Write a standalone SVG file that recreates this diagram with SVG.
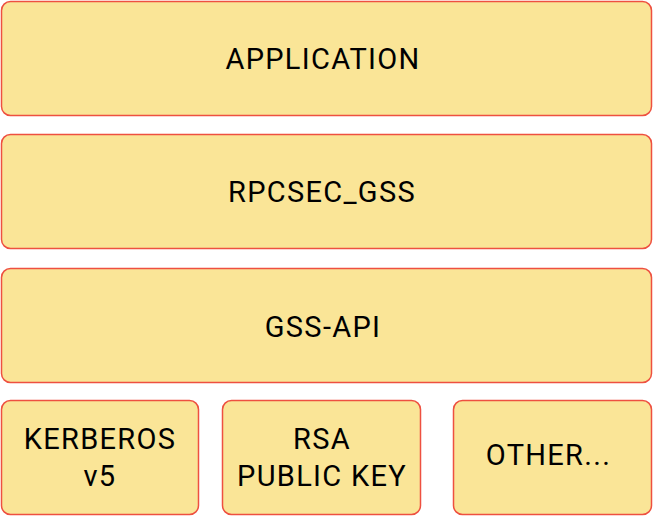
<svg xmlns="http://www.w3.org/2000/svg" width="653" height="516" viewBox="0 0 653 516">
<style>
.box{fill:#FAE597;stroke:#EE5040;stroke-width:1.5}
.t{font-family:Roboto,"Liberation Sans",sans-serif;font-size:29px;letter-spacing:1.3px;fill:#000;text-anchor:middle}
</style>
<rect width="653" height="516" fill="#fff"/>
<g id="application"><rect class="box" x="1.5" y="1.5" width="650" height="114" rx="9"/><text class="t" x="323" y="69">APPLICATION</text></g>
<g id="rpcsec"><rect class="box" x="1.5" y="134.5" width="650" height="114" rx="9"/><text class="t" x="322" y="202">RPCSEC_GSS</text></g>
<g id="gssapi"><rect class="box" x="1.5" y="268.5" width="650" height="114" rx="9"/><text class="t" x="323" y="337">GSS-API</text></g>
<g id="kerberos"><rect class="box" x="1.5" y="400.5" width="197" height="114" rx="9"/><text class="t" x="100" y="449">KERBEROS</text><text class="t" x="100" y="486">v5</text></g>
<g id="rsa"><rect class="box" x="222.5" y="400.5" width="198" height="114" rx="9"/><text class="t" x="322" y="449">RSA</text><text class="t" x="322" y="486">PUBLIC KEY</text></g>
<g id="other"><rect class="box" x="453.5" y="400.5" width="198" height="114" rx="9"/><text class="t" x="548.5" y="465">OTHER...</text></g>
<g id="connectors"></g>
</svg>
